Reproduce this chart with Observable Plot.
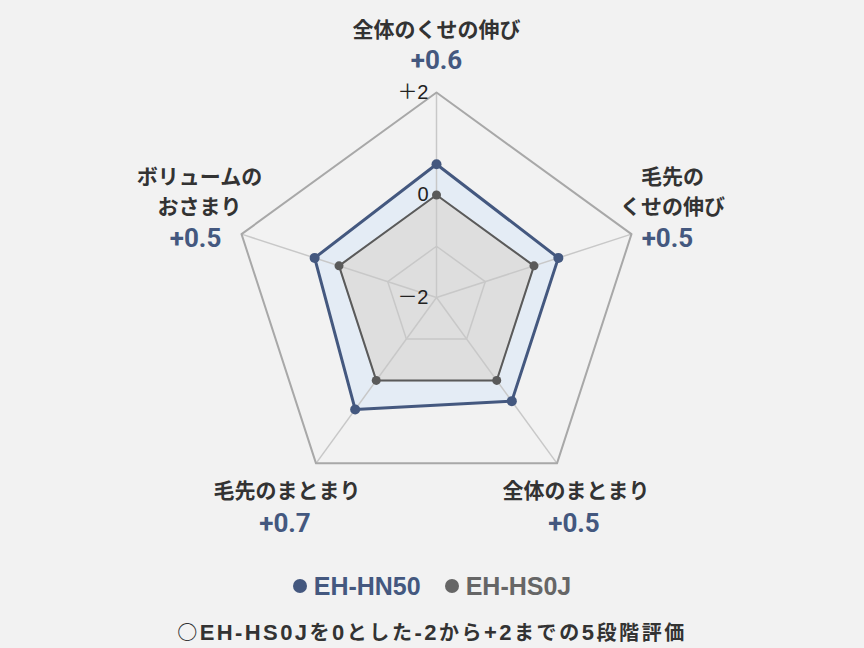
<!DOCTYPE html>
<html>
<head>
<meta charset="utf-8">
<script src="https://cdn.jsdelivr.net/npm/d3@7"></script>
<script src="https://cdn.jsdelivr.net/npm/@observablehq/plot@0.6"></script>
<style>
  html, body { margin: 0; padding: 0; background: #f2f2f2; }
  #wrap { width: 864px; }
  .legend { height: 52px; display: flex; justify-content: center; align-items: center; font-family: "Liberation Sans", Arial, sans-serif; font-weight: bold; font-size: 25px; }
  .legend .item { display: flex; align-items: center; margin: 0 12px; }
  .legend .dot { width: 14px; height: 14px; border-radius: 50%; display: inline-block; margin-right: 7px; }
  .caption { height: 40px; line-height: 40px; text-align: center; font-weight: bold; color: #333; white-space: nowrap; }
  .caption .lat { font-family: "Liberation Sans", Arial, sans-serif; font-size: 22px; letter-spacing: 2.4px; }
  .caption .cjk { font-family: "Noto Sans CJK JP", sans-serif; font-size: 20px; letter-spacing: 2.6px; }
</style>
</head>
<body>
<div id="wrap">
  <div id="chart"></div>
  <div class="legend" id="legend"></div>
  <div class="caption" id="caption"></div>
</div>
<script>
// ---- data ----
const axesLabels = ["全体のくせの伸び", "毛先の\nくせの伸び", "全体のまとまり", "毛先のまとまり", "ボリュームの\nおさまり"];
const hn50 = [0.6, 0.5, 0.5, 0.7, 0.5];
const hs0j = [0, 0, 0, 0, 0];
const diffLabels = ["+0.6", "+0.5", "+0.5", "+0.7", "+0.5"];
const tickValues = [2, 0, -2];
const tickLabels = ["＋2", "0", "－2"];
const seriesNames = ["EH-HN50", "EH-HS0J"];
const captionText = "○EH-HS0Jを0とした-2から+2までの5段階評価";

// ---- layout / style ----
const W = 864, H = 560;
const cx = 436, cy = 297, unit = 51.25;   // px per value step
const minV = -2, maxV = 2;
const blue = "#44587f", gray = "#5a5a5a";
const titleOffsets = [[0, -65], [41, -45], [19, 25], [-29, 25], [-42, -45]];
const valueOffsets = [[0, -32], [36, 5], [17, 60], [-31, 60], [-46, 5]];

const n = axesLabels.length;
const ang = i => i * 2 * Math.PI / n;
const rOf = v => v - minV;
const pt = (v, i) => ({x: rOf(v) * Math.sin(ang(i)), y: rOf(v) * Math.cos(ang(i)), i});

const hnPts = hn50.map((v, i) => pt(v, i));
const hsPts = hs0j.map((v, i) => pt(v, i));
const ringLevels = [-1, 0, maxV];
const rings = ringLevels.flatMap(l => axesLabels.map((_, i) => ({...pt(l, i), level: l})));
const spokes = axesLabels.map((_, i) => ({x1: 0, y1: 0, x2: pt(maxV, i).x, y2: pt(maxV, i).y}));
const ticks = tickValues.map((v, k) => ({x: 0, y: rOf(v), label: tickLabels[k]}));
const outer = axesLabels.map((_, i) => pt(maxV, i));

const titleFont = '"Noto Sans CJK JP", sans-serif';
const labelMarks = [];
axesLabels.forEach((lab, i) => {
  labelMarks.push(Plot.text([outer[i]], {x: "x", y: "y", text: () => lab, dx: titleOffsets[i][0], dy: titleOffsets[i][1],
    fontFamily: titleFont, fontWeight: "bold", fontSize: 21, fill: "#333", lineAnchor: "middle", lineHeight: 1.42, textAnchor: "middle"}));
  labelMarks.push(Plot.text([outer[i]], {x: "x", y: "y", text: () => diffLabels[i], dx: valueOffsets[i][0], dy: valueOffsets[i][1],
    fontFamily: "Roboto, sans-serif", fontWeight: "bold", fontSize: 26, fill: blue, lineAnchor: "middle", textAnchor: "middle",
    style: "letter-spacing:-1px"}));
});

const chart = Plot.plot({
  width: W, height: H,
  margin: 0,
  style: {background: "#f2f2f2", overflow: "visible"},
  x: {domain: [-cx / unit, (W - cx) / unit], axis: null},
  y: {domain: [-(H - cy) / unit, cy / unit], axis: null},
  marks: [
    Plot.line(hnPts, {x: "x", y: "y", curve: "linear-closed", fill: "#e4ecf5", stroke: "none"}),
    Plot.line(hsPts, {x: "x", y: "y", curve: "linear-closed", fill: "#dedede", stroke: "none"}),
    Plot.link(spokes, {x1: "x1", y1: "y1", x2: "x2", y2: "y2", stroke: "#c8c8c8", strokeWidth: 1.5}),
    Plot.line(rings.filter(d => d.level !== maxV), {x: "x", y: "y", z: "level", curve: "linear-closed", stroke: "#c8c8c8", strokeWidth: 1.5}),
    Plot.line(rings.filter(d => d.level === maxV), {x: "x", y: "y", curve: "linear-closed", stroke: "#a8a8a8", strokeWidth: 2}),
    Plot.line(hnPts, {x: "x", y: "y", curve: "linear-closed", stroke: blue, strokeWidth: 3, strokeLinejoin: "miter"}),
    Plot.line(hsPts, {x: "x", y: "y", curve: "linear-closed", stroke: gray, strokeWidth: 2, strokeLinejoin: "miter"}),
    Plot.dot(hnPts, {x: "x", y: "y", r: 5, fill: blue}),
    Plot.dot(hsPts, {x: "x", y: "y", r: 4.5, fill: gray}),
    Plot.text(ticks, {x: "x", y: "y", text: "label", textAnchor: "end", dx: -8, fontSize: 20, fill: "#222",
      fontFamily: '"Liberation Sans", "Noto Sans CJK JP", sans-serif'}),
    ...labelMarks
  ]
});
document.getElementById("chart").appendChild(chart);

// legend
const legendColors = [blue, "#666"];
const legend = document.getElementById("legend");
seriesNames.forEach((s, k) => {
  const item = document.createElement("span");
  item.className = "item";
  item.style.color = legendColors[k];
  const dot = document.createElement("span");
  dot.className = "dot";
  dot.style.background = legendColors[k];
  item.appendChild(dot);
  item.appendChild(document.createTextNode(s));
  legend.appendChild(item);
});

// caption: Latin runs and CJK runs in their own fonts
const cap = document.getElementById("caption");
(captionText.match(/[\x20-\x7e]+|[^\x20-\x7e]+/g) || []).forEach(run => {
  const sp = document.createElement("span");
  sp.className = /^[\x20-\x7e]+$/.test(run) ? "lat" : "cjk";
  sp.textContent = run;
  cap.appendChild(sp);
});
</script>
</body>
</html>
